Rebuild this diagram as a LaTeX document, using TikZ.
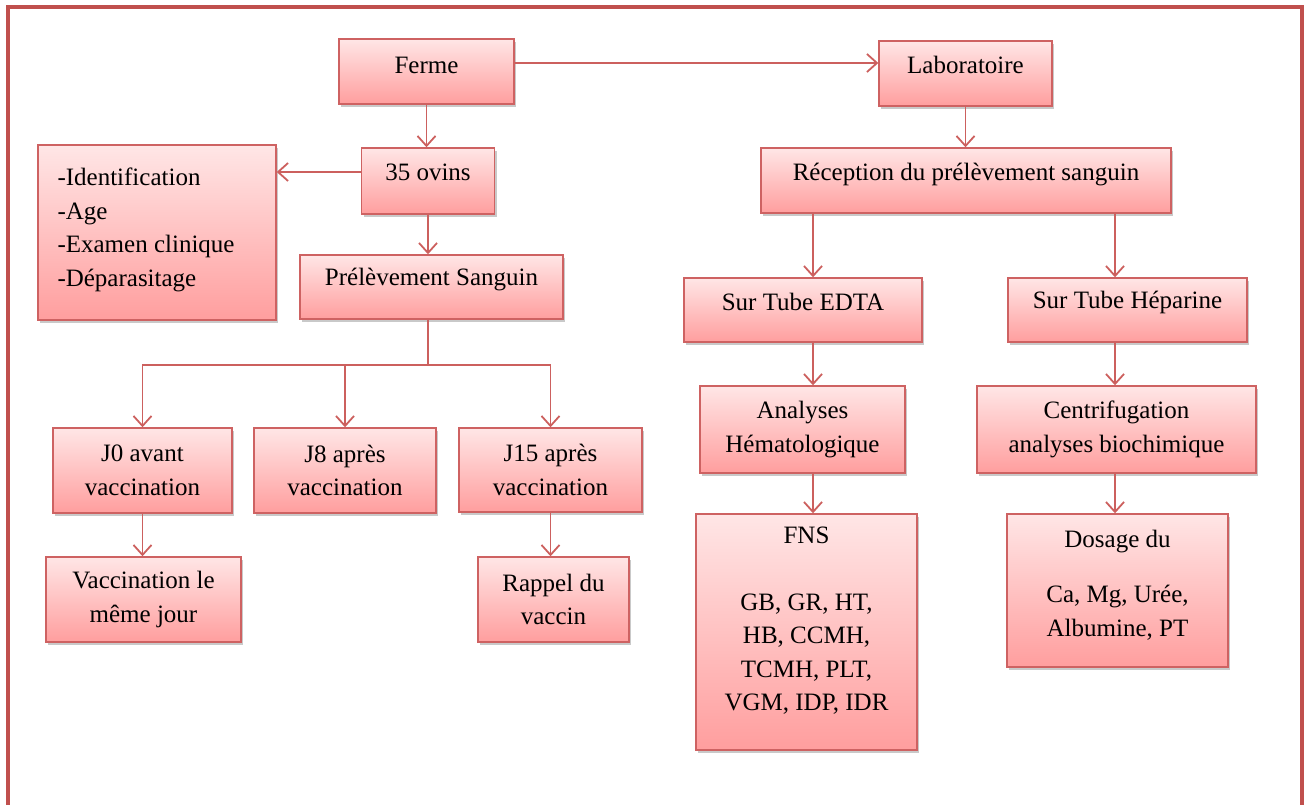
\documentclass[tikz,border=0pt]{standalone}
\usepackage{fontspec}
\setmainfont{Liberation Serif}
\usetikzlibrary{arrows.meta,shadows,calc}
\newcommand\fsz{\fontsize{25}{33.5}\selectfont}
\definecolor{edgec}{RGB}{204,96,94}
\definecolor{bordc}{RGB}{206,98,98}
\definecolor{ftop}{RGB}{255,230,230}
\definecolor{fbot}{RGB}{255,158,158}
\definecolor{framec}{RGB}{192,80,77}
\newcommand\bx[7]{%
  \node[box,minimum width=#4pt,minimum height=#5pt] (#1) at (#2,#3) {};
  \node[txt] (#1-t) at ([yshift=#6pt]#1.center) {#7};}
\begin{document}
\begin{tikzpicture}[x=1pt,y=-1pt,
  box/.style={draw=bordc, line width=1.4pt, top color=ftop, bottom color=fbot,
    inner sep=0pt, drop shadow={shadow xshift=2pt, shadow yshift=-3pt, opacity=0.3, fill=black!70}},
  txt/.style={font=\fsz, align=center, inner sep=0pt, text=black},
  arr/.style={draw=edgec, line width=1.8pt, -{Straight Barb[length=10pt,width=18pt,line width=1.8pt]}},
  ln/.style={draw=edgec, line width=1.8pt}]
\useasboundingbox (0,0) rectangle (1304,805);
\clip (0,0) rectangle (1304,805);
\draw[framec, line width=4pt] (7.5,7.5) rectangle (1302,850);

\bx{ferme}{426.5}{71.5}{175}{65}{6.5}{Ferme}
\bx{labo}{965.5}{73.5}{173}{65}{8.5}{Laboratoire}
\bx{ovins}{428}{181}{133}{66}{9}{35 ovins}
\node[box,minimum width=238pt,minimum height=175pt] (ident) at (157,232.5) {};
\node[txt, anchor=west, align=left] (ident-t) at ([xshift=20pt,yshift=2.5pt]ident.west)
  {-Identification\\-Age\\-Examen clinique\\-Déparasitage};
\bx{recep}{966}{180.5}{410}{65}{5.5}{Réception du prélèvement sanguin}
\bx{prel}{431.5}{287}{263}{64}{7}{Prélèvement Sanguin}
\bx{edta}{803}{310}{238}{64}{8}{Sur Tube EDTA}
\bx{hep}{1127.5}{310}{239}{64}{8}{Sur Tube Héparine}
\bx{anal}{802.5}{429.5}{205}{87}{0}{Analyses\\Hématologique}
\bx{centr}{1116.5}{429.5}{279}{87}{0}{Centrifugation\\analyses biochimique}
\bx{fns}{806.5}{632}{221}{236}{11}{FNS\\[33pt]GB, GR, HT,\\HB, CCMH,\\TCMH, PLT,\\VGM, IDP, IDR}
\bx{dos}{1117.5}{590.5}{221}{153}{5.5}{Dosage du\\[22pt]Ca, Mg, Urée,\\Albumine, PT}
\bx{j0}{142.5}{470.5}{179}{85}{0}{J0 avant\\vaccination}
\bx{j8}{345}{470.5}{182}{85}{0}{J8 après\\vaccination}
\bx{j15}{550.5}{470}{183}{84}{0}{J15 après\\vaccination}
\bx{vacc}{143.5}{599.5}{195}{85}{0}{Vaccination le\\même jour}
\bx{rappel}{553.5}{599.5}{151}{85}{0}{Rappel du\\vaccin}

% connectors
\coordinate (fl) at ([yshift=8.5pt]ferme.east);
\draw[arr] (fl) -- (fl -| labo.west);
\draw[arr] (ferme.south) -- (ferme.south |- ovins.north);
\coordinate (oi) at ([yshift=9pt]ovins.west);
\draw[arr] (oi) -- (oi -| ident.east);
\draw[arr] (ovins.south) -- (ovins.south |- prel.north);
\coordinate (hub) at (428,365);
\draw[ln] (prel.south -| hub) -- (hub);
\draw[arr] (hub) -| (j0.north);
\draw[arr] (hub) -| (j8.north);
\draw[arr] (hub) -| (j15.north);
\draw[arr] (j0.south) -- (j0.south |- vacc.north);
\draw[arr] (j15.south) -- (j15.south |- rappel.north);
\draw[arr] (labo.south) -- (labo.south |- recep.north);
\coordinate (xl) at (813,0);
\coordinate (xr) at (1115,0);
\draw[arr] (recep.south -| xl) -- (edta.north -| xl);
\draw[arr] (recep.south -| xr) -- (hep.north -| xr);
\draw[arr] (edta.south -| xl) -- (anal.north -| xl);
\draw[arr] (hep.south -| xr) -- (centr.north -| xr);
\draw[arr] (anal.south -| xl) -- (fns.north -| xl);
\draw[arr] (centr.south -| xr) -- (dos.north -| xr);
\end{tikzpicture}
\end{document}
